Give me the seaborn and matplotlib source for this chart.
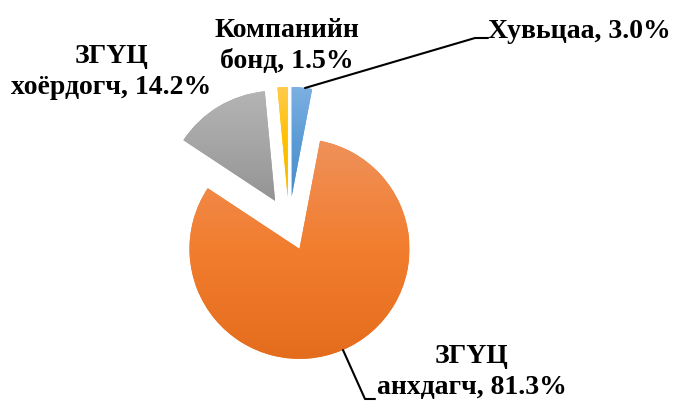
import matplotlib
matplotlib.use("Agg")
import matplotlib.pyplot as plt
from matplotlib.colors import LinearSegmentedColormap
import numpy as np
import seaborn as sns

# data (clockwise from 12 o'clock)
labels = ["Хувьцаа", "ЗГҮЦ\nанхдагч", "ЗГҮЦ\nхоёрдогч", "Компанийн\nбонд"]
shares = [3.0, 81.3, 14.2, 1.5]
# gradient stops per slice: bottom (dark), middle, top (light)
grads = [
    ["#4A8BCC", "#5B9BD5", "#7DB0E2"],
    ["#E46D1D", "#F27D2E", "#EF915A"],
    ["#949494", "#A5A5A5", "#B4B4B4"],
    ["#F2B800", "#FFC000", "#FFCB4D"],
]

sns.set_theme(style="white")
plt.rcParams["font.family"] = ["Liberation Serif", "DejaVu Serif"]

fig = plt.figure(figsize=(6.76, 4.03), dpi=100)
ax = fig.add_axes([0, 0, 1, 1])

wedges, _ = ax.pie(shares, colors=[g[1] for g in grads], explode=[27] * 4,
                   startangle=90, counterclock=False, center=(289, 179), radius=110,
                   wedgeprops=dict(linewidth=0))

# vertical gradient fill, clipped to each wedge
grad = np.linspace(0, 1, 256).reshape(-1, 1)
for w, g in zip(wedges, grads):
    ext = w.get_path().get_extents()
    cmap = LinearSegmentedColormap.from_list("g", g)
    im = ax.imshow(grad, cmap=cmap, origin="lower", aspect="auto", zorder=2,
                   extent=[ext.x0, ext.x1, ext.y0, ext.y1], interpolation="bilinear")
    im.set_clip_path(w)

ax.set_xlim(0, 676)
ax.set_ylim(0, 403)
ax.set_aspect("equal")
ax.axis("off")

txt = dict(fontsize=20, fontweight="bold", color="black", ha="center", va="center",
           linespacing=1.3)
ax.text(579, 372, f"{labels[0]}, {shares[0]:.1f}%", **txt)
ax.text(287, 357, f"{labels[3]}, {shares[3]:.1f}%", **txt)
ax.text(111, 331, f"{labels[2]}, {shares[2]:.1f}%", **txt)
ax.text(472, 31, f"{labels[1]}, {shares[1]:.1f}%", **txt)

# leader lines
ax.plot([305, 475, 488], [315, 365, 365], color="black", lw=1.5)
ax.plot([343, 365, 375], [53, 4, 4], color="black", lw=1.5)

fig.savefig("out.png", dpi=100)
